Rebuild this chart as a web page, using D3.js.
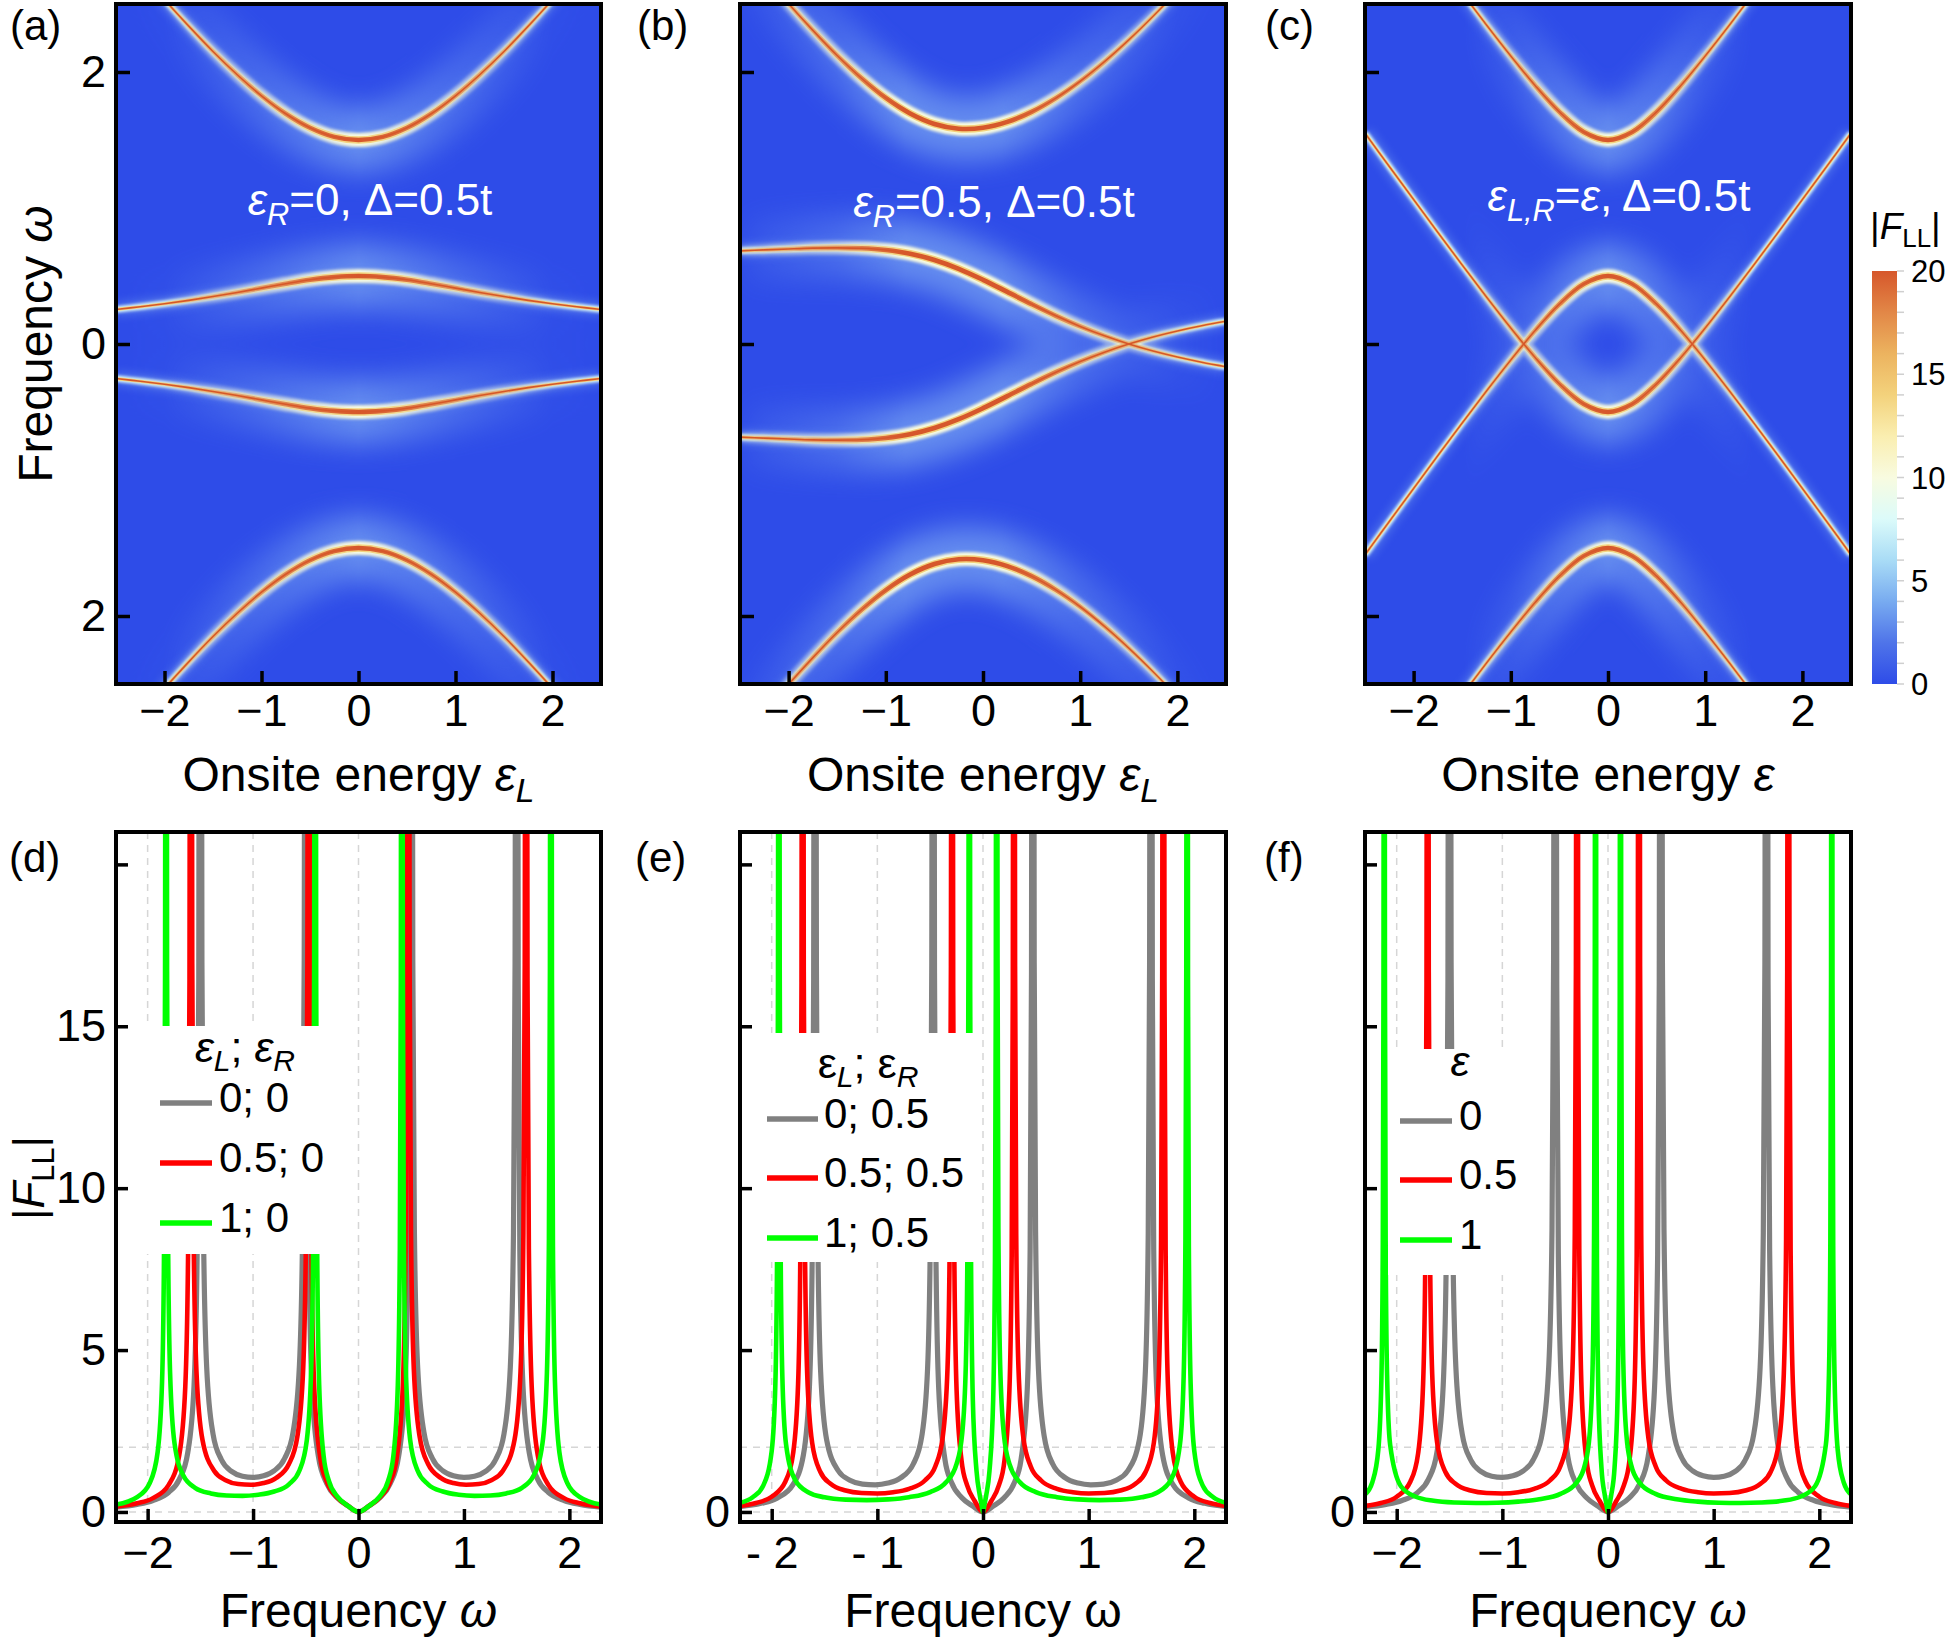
<!DOCTYPE html>
<html>
<head>
<meta charset="utf-8">
<script src="https://cdn.jsdelivr.net/npm/d3@7"></script>
<style>
  body { margin: 0; background: #fff; }
  text { font-family: "Liberation Sans", Arial, Helvetica, sans-serif; }
</style>
</head>
<body>
<div id="main"></div>
<script>
// ---------- data ----------
// top row: band positions (omega) against the onsite energy, drawn at +omega and -omega
const epsGrid = [-2.5, -2.25, -2, -1.75, -1.5, -1.25, -1, -0.75, -0.5, -0.25, 0,
                 0.25, 0.5, 0.75, 1, 1.25, 1.5, 1.75, 2, 2.25, 2.5];

const outerA = [2.947, 2.736, 2.532, 2.337, 2.151, 1.980, 1.825, 1.693, 1.590, 1.523, 1.500,
                1.523, 1.590, 1.693, 1.825, 1.980, 2.151, 2.337, 2.532, 2.736, 2.947];
const innerA = [0.254, 0.274, 0.296, 0.321, 0.349, 0.379, 0.411, 0.443, 0.472, 0.492, 0.500,
                0.492, 0.472, 0.443, 0.411, 0.379, 0.349, 0.321, 0.296, 0.274, 0.254];

const outerB = [2.921, 2.708, 2.502, 2.306, 2.121, 1.954, 1.809, 1.695, 1.618, 1.583, 1.590,
                1.633, 1.707, 1.808, 1.932, 2.076, 2.236, 2.410, 2.596, 2.792, 2.995];
const innerB = [0.685, 0.692, 0.699, 0.705, 0.707, 0.704, 0.691, 0.664, 0.618, 0.553, 0.472,
                0.383, 0.293, 0.207, 0.129, 0.060, 0.000, -0.052, -0.096, -0.134, -0.167];

const outerC = [3.550, 3.305, 3.062, 2.820, 2.581, 2.346, 2.118, 1.901, 1.707, 1.559, 1.500,
                1.559, 1.707, 1.901, 2.118, 2.346, 2.581, 2.820, 3.062, 3.305, 3.550];
const innerC = [-1.550, -1.305, -1.062, -0.820, -0.581, -0.346, -0.118, 0.099, 0.293, 0.441, 0.500,
                0.441, 0.293, 0.099, -0.118, -0.346, -0.581, -0.820, -1.062, -1.305, -1.550];

// bottom row: |F_LL| against frequency, [omega, |F_LL|]
const dGray = [[-2.3,0.150],[-2.1,0.234],[-1.95,0.354],[-1.8,0.608],[-1.7,1.006],[-1.62,1.822],[-1.56,3.891],[-1.53,8.05],[-1.515,16.38],[-1.5075,33.04],
  [-1.4925,33.63],[-1.485,16.96],[-1.47,8.634],[-1.44,4.476],[-1.38,2.414],[-1.3,1.612],[-1.2,1.245],[-1.1,1.102],[-1.0,1.067],[-0.9,1.116],[-0.8,1.274],[-0.7,1.657],[-0.62,2.473],[-0.56,4.547],[-0.53,8.711],[-0.515,17.04],[-0.5075,33.69],
  [-0.4925,32.98],[-0.485,16.29],[-0.47,7.96],[-0.44,3.794],[-0.38,1.709],[-0.3,0.868],[-0.2,0.431],[-0.1,0.186],[0,0],
  [0.1,0.186],[0.2,0.431],[0.3,0.868],[0.38,1.709],[0.44,3.794],[0.47,7.96],[0.485,16.29],[0.4925,32.98],
  [0.5075,33.69],[0.515,17.04],[0.53,8.711],[0.56,4.547],[0.62,2.473],[0.7,1.657],[0.8,1.274],[0.9,1.116],[1.0,1.067],[1.1,1.102],[1.2,1.245],[1.3,1.612],[1.38,2.414],[1.44,4.476],[1.47,8.634],[1.485,16.96],[1.4925,33.63],
  [1.5075,33.04],[1.515,16.38],[1.53,8.05],[1.56,3.891],[1.62,1.822],[1.7,1.006],[1.8,0.608],[1.95,0.354],[2.1,0.234],[2.3,0.150]];

const dRed = [[-2.3,0.164],[-2.1,0.266],[-1.95,0.427],[-1.8,0.837],[-1.7,1.758],[-1.6428,3.872],[-1.6158,8.117],[-1.6028,16.46],[-1.5964,32.63],
  [-1.5832,33.11],[-1.5768,16.92],[-1.5638,8.58],[-1.5368,4.335],[-1.48,2.231],[-1.37,1.273],[-1.26,0.982],[-1.14,0.862],[-1.02,0.839],[-0.9,0.892],[-0.78,1.053],[-0.66,1.481],[-0.58,2.325],[-0.5248,4.409],[-0.4978,8.65],[-0.4848,16.96],[-0.4784,33.0],
  [-0.4652,32.74],[-0.459,16.68],[-0.446,8.101],[-0.419,3.791],[-0.36,1.615],[-0.3,0.928],[-0.2,0.44],[-0.1,0.187],[0,0],
  [0.1,0.187],[0.2,0.44],[0.3,0.928],[0.36,1.615],[0.419,3.791],[0.446,8.101],[0.459,16.68],[0.4652,32.74],
  [0.4784,33.0],[0.4848,16.96],[0.4978,8.65],[0.5248,4.409],[0.58,2.325],[0.66,1.481],[0.78,1.053],[0.9,0.892],[1.02,0.839],[1.14,0.862],[1.26,0.982],[1.37,1.273],[1.48,2.231],[1.5368,4.335],[1.5638,8.58],[1.5768,16.92],[1.5832,33.11],
  [1.5964,32.63],[1.6028,16.46],[1.6158,8.117],[1.6428,3.872],[1.7,1.758],[1.8,0.837],[1.95,0.427],[2.1,0.266],[2.3,0.164]];

const dGreen = [[-2.3,0.229],[-2.1,0.459],[-1.98,0.896],[-1.905,1.848],[-1.8631,4.03],[-1.8441,8.203],[-1.8346,16.58],[-1.8299,33.09],
  [-1.8203,32.8],[-1.8156,16.71],[-1.8061,8.445],[-1.7871,4.299],[-1.745,2.121],[-1.66,1.115],[-1.55,0.747],[-1.4,0.57],[-1.25,0.507],[-1.1,0.498],[-0.95,0.533],[-0.8,0.631],[-0.66,0.855],[-0.56,1.282],[-0.49,2.225],[-0.4489,4.393],[-0.4299,8.564],[-0.4204,16.92],[-0.4157,33.36],
  [-0.4061,32.53],[-0.4014,16.36],[-0.3919,8.075],[-0.3729,3.919],[-0.331,1.733],[-0.28,0.952],[-0.2,0.472],[-0.1,0.19],[0,0],
  [0.1,0.19],[0.2,0.472],[0.28,0.952],[0.331,1.733],[0.3729,3.919],[0.3919,8.075],[0.4014,16.36],[0.4061,32.53],
  [0.4157,33.36],[0.4204,16.92],[0.4299,8.564],[0.4489,4.393],[0.49,2.225],[0.56,1.282],[0.66,0.855],[0.8,0.631],[0.95,0.533],[1.1,0.498],[1.25,0.507],[1.4,0.57],[1.55,0.747],[1.66,1.115],[1.745,2.121],[1.7871,4.299],[1.8061,8.445],[1.8156,16.71],[1.8203,32.8],
  [1.8299,33.09],[1.8346,16.58],[1.8441,8.203],[1.8631,4.03],[1.905,1.848],[1.98,0.896],[2.1,0.459],[2.3,0.229]];

// eps_L=0, eps_R=0.5 sits on the same spectrum as eps_L=0.5, eps_R=0
const eGray = dRed;

const eRed = [[-2.3,0.186],[-2.15,0.277],[-2.0,0.471],[-1.87,0.941],[-1.797,1.815],[-1.7501,3.956],[-1.7285,8.104],[-1.7178,16.37],[-1.7125,32.61],
  [-1.7017,32.86],[-1.6964,16.68],[-1.6857,8.423],[-1.6641,4.277],[-1.6171,2.137],[-1.54,1.242],[-1.44,0.862],[-1.3,0.662],[-1.15,0.584],[-1.0,0.571],[-0.85,0.609],[-0.7,0.714],[-0.55,0.972],[-0.45,1.422],[-0.383,2.272],[-0.3359,4.435],[-0.3143,8.591],[-0.3036,16.85],[-0.2983,33.07],
  [-0.2875,32.4],[-0.2822,16.18],[-0.2715,7.914],[-0.2499,3.754],[-0.2029,1.583],[-0.15,0.82],[-0.08,0.347],[0,0],
  [0.08,0.347],[0.15,0.82],[0.2029,1.583],[0.2499,3.754],[0.2715,7.914],[0.2822,16.18],[0.2875,32.4],
  [0.2983,33.07],[0.3036,16.85],[0.3143,8.591],[0.3359,4.435],[0.383,2.272],[0.45,1.422],[0.55,0.972],[0.7,0.714],[0.85,0.609],[1.0,0.571],[1.15,0.584],[1.3,0.662],[1.44,0.862],[1.54,1.242],[1.6171,2.137],[1.6641,4.277],[1.6857,8.423],[1.6964,16.68],[1.7017,32.86],
  [1.7125,32.61],[1.7178,16.37],[1.7285,8.104],[1.7501,3.956],[1.797,1.815],[1.87,0.941],[2.0,0.471],[2.15,0.277],[2.3,0.186]];

const eGreen = [[-2.3,0.28],[-2.18,0.452],[-2.08,0.814],[-2.0002,1.877],[-1.9652,3.97],[-1.9484,8.185],[-1.9403,16.44],[-1.9363,32.47],
  [-1.9281,33.16],[-1.9241,16.78],[-1.916,8.426],[-1.8992,4.188],[-1.8642,2.089],[-1.78,1.0],[-1.65,0.603],[-1.5,0.453],[-1.3,0.38],[-1.1,0.365],[-0.9,0.388],[-0.7,0.456],[-0.5,0.615],[-0.35,0.917],[-0.25,1.488],[-0.1974,2.404],[-0.1624,4.548],[-0.1456,8.8],[-0.1375,17.11],[-0.1335,33.27],
  [-0.1253,32.35],[-0.1213,16.08],[-0.1132,7.746],[-0.0964,3.475],[-0.0614,1.269],[-0.03,0.507],[-0.015,0.243],[0,0],
  [0.015,0.243],[0.03,0.507],[0.0614,1.269],[0.0964,3.475],[0.1132,7.746],[0.1213,16.08],[0.1253,32.35],
  [0.1335,33.27],[0.1375,17.11],[0.1456,8.8],[0.1624,4.548],[0.1974,2.404],[0.25,1.488],[0.35,0.917],[0.5,0.615],[0.7,0.456],[0.9,0.388],[1.1,0.365],[1.3,0.38],[1.5,0.453],[1.65,0.603],[1.78,1.0],[1.8642,2.089],[1.8992,4.188],[1.916,8.426],[1.9241,16.78],[1.9281,33.16],
  [1.9363,32.47],[1.9403,16.44],[1.9484,8.185],[1.9652,3.97],[2.0002,1.877],[2.08,0.814],[2.18,0.452],[2.3,0.28]];

// eps=0 and eps=0.5 in (f) repeat curves already read in (d) and (e)
const fGray = dGray;
const fRed = eRed;
const fGreen = [[-2.3,0.542],[-2.23,0.924],[-2.174,1.92],[-2.145,4.067],[-2.1315,8.221],[-2.1248,16.43],[-2.1214,33.09],
  [-2.1146,32.68],[-2.1112,16.45],[-2.1045,8.344],[-2.091,4.217],[-2.062,2.077],[-1.96,0.795],[-1.82,0.47],[-1.65,0.345],[-1.45,0.291],[-1.25,0.276],[-1.05,0.285],[-0.85,0.319],[-0.65,0.392],[-0.45,0.557],[-0.3,0.897],[-0.22,1.438],[-0.174,2.389],[-0.145,4.578],[-0.1315,8.755],[-0.1248,16.98],[-0.1214,33.64],
  [-0.1146,32.11],[-0.1112,15.87],[-0.1045,7.755],[-0.091,3.597],[-0.062,1.371],[-0.03,0.513],[-0.015,0.244],[0,0],
  [0.015,0.244],[0.03,0.513],[0.062,1.371],[0.091,3.597],[0.1045,7.755],[0.1112,15.87],[0.1146,32.11],
  [0.1214,33.64],[0.1248,16.98],[0.1315,8.755],[0.145,4.578],[0.174,2.389],[0.22,1.438],[0.3,0.897],[0.45,0.557],[0.65,0.392],[0.85,0.319],[1.05,0.285],[1.25,0.276],[1.45,0.291],[1.65,0.345],[1.82,0.47],[1.96,0.795],[2.062,2.077],[2.091,4.217],[2.1045,8.344],[2.1112,16.45],[2.1146,32.68],
  [2.1214,33.09],[2.1248,16.43],[2.1315,8.221],[2.145,4.067],[2.174,1.92],[2.23,0.924],[2.3,0.542]];

const legendD = ["0; 0", "0.5; 0", "1; 0"];
const legendE = ["0; 0.5", "0.5; 0.5", "1; 0.5"];
const legendF = ["0", "0.5", "1"];

const topXTicks = [-2, -1, 0, 1, 2];
const topXLabels = ["\u22122", "\u22121", "0", "1", "2"];
const topYTicks = [2, 0, -2];
const topYLabels = ["2", "0", "2"];

const botXTicks = [-2, -1, 0, 1, 2];
const botXLabels = ["\u22122", "\u22121", "0", "1", "2"];
const botXLabelsE = ["- 2", "- 1", "0", "1", "2"];
const botYTicks = [0, 5, 10, 15, 20];
const botYLabelsD = ["0", "5", "10", "15", ""];
const botYLabelsEF = ["0", "", "", "", ""];

const cbarTicks = [0, 5, 10, 15, 20];
const cbarMinor = d3.range(0, 21);

// ---------- layout ----------
const W = 1954, H = 1638;
const svg = d3.select("#main").append("svg").attr("width", W).attr("height", H);
const defs = svg.append("defs");

const heatColors = ["#2e4ce8", "#4f74e9", "#78abf0", "#a9dcf6", "#dcfbfa", "#f8fbe0",
                    "#faeeb0", "#f3d27c", "#ecb35f", "#e28747", "#d6572b"];
const bgBlue = "#2e4ce8";

function blur(id, sd) {
  defs.append("filter").attr("id", id).attr("filterUnits", "userSpaceOnUse")
    .attr("x", 0).attr("y", 0).attr("width", W).attr("height", H)
    .append("feGaussianBlur").attr("stdDeviation", sd);
}
blur("b-wide", 14);
blur("b-mid", 4);
blur("b-halo", 1.5);
blur("b-soft", 0.6);

// text with italic / subscript pieces
function rich(parent, parts, o) {
  const t = parent.append("text")
    .attr("x", o.x).attr("y", o.y)
    .attr("font-size", o.size)
    .attr("text-anchor", o.anchor || "start")
    .attr("fill", o.fill || "#000");
  if (o.rotate) t.attr("transform", `rotate(-90 ${o.x} ${o.y})`);
  let down = false;
  parts.forEach(p => {
    const s = t.append("tspan").text(p.t);
    if (p.it) s.attr("font-style", "italic");
    if (p.sub) {
      s.attr("font-size", o.size * 0.7);
      if (!down) { s.attr("dy", o.size * 0.22); down = true; }
    } else if (down) {
      s.attr("dy", -o.size * 0.22); down = false;
    }
  });
  return t;
}

function styleAxis(g, size) {
  g.select(".domain").remove();
  g.selectAll(".tick line").attr("stroke", "#000").attr("stroke-width", 3.5);
  g.selectAll(".tick text").attr("font-size", size)
    .attr("font-family", '"Liberation Sans", Arial, Helvetica, sans-serif').attr("fill", "#000");
}

// ---------- top row: density maps ----------
const topY = d3.scaleLinear().domain([-2.5, 2.5]).range([684, 4]);

const topPanels = [
  { key: "a", x0: 116, x1: 601, outer: outerA, inner: innerA, tag: "(a)", tagX: 10,
    fade: [[-2.5, 0], [-2, 0.05], [-1, 0.5], [0, 1], [1, 0.5], [2, 0.05], [2.5, 0]],
    note: { x: 370, y: 215, parts: [{ t: "\u03b5", it: 1 }, { t: "R", it: 1, sub: 1 }, { t: "=0, \u0394=0.5t" }] },
    xlab: [{ t: "Onsite energy " }, { t: "\u03b5", it: 1 }, { t: "L", it: 1, sub: 1 }], yLabels: true },
  { key: "b", x0: 740, x1: 1226, outer: outerB, inner: innerB, tag: "(b)", tagX: 637,
    fade: [[-2.5, 0.1], [-1.5, 0.5], [-0.8, 1], [0.2, 1], [1, 0.5], [2, 0.1], [2.5, 0]],
    note: { x: 994, y: 217, parts: [{ t: "\u03b5", it: 1 }, { t: "R", it: 1, sub: 1 }, { t: "=0.5, \u0394=0.5t" }] },
    xlab: [{ t: "Onsite energy " }, { t: "\u03b5", it: 1 }, { t: "L", it: 1, sub: 1 }], yLabels: false },
  { key: "c", x0: 1365, x1: 1851, outer: outerC, inner: innerC, tag: "(c)", tagX: 1265,
    fade: [[-2.5, 0], [-1.5, 0], [-1, 0.25], [-0.5, 0.65], [0, 1], [0.5, 0.65], [1, 0.25], [1.5, 0], [2.5, 0]],
    note: { x: 1619, y: 211, parts: [{ t: "\u03b5", it: 1 }, { t: "L,R", it: 1, sub: 1 }, { t: "=" }, { t: "\u03b5", it: 1 }, { t: ", \u0394=0.5t" }] },
    xlab: [{ t: "Onsite energy " }, { t: "\u03b5", it: 1 }], yLabels: false }
];

topPanels.forEach(p => {
  const x = d3.scaleLinear().domain([-2.5, 2.5]).range([p.x0, p.x1]);
  const top = topY.range()[1], bot = topY.range()[0];

  defs.append("clipPath").attr("id", "clip-" + p.key)
    .append("rect").attr("x", p.x0).attr("y", top).attr("width", p.x1 - p.x0).attr("height", bot - top);

  const grad = defs.append("linearGradient").attr("id", "fade-" + p.key)
    .attr("gradientUnits", "userSpaceOnUse")
    .attr("x1", p.x0).attr("x2", p.x1).attr("y1", 0).attr("y2", 0);
  p.fade.forEach(([e, o]) => grad.append("stop")
    .attr("offset", (e + 2.5) / 5).attr("stop-color", "#fff").attr("stop-opacity", o));
  defs.append("mask").attr("id", "mask-" + p.key).attr("maskUnits", "userSpaceOnUse")
    .attr("x", 0).attr("y", 0).attr("width", W).attr("height", H)
    .append("rect").attr("x", p.x0).attr("y", top).attr("width", p.x1 - p.x0).attr("height", bot - top)
    .attr("fill", `url(#fade-${p.key})`);

  // BdG spectrum is particle-hole symmetric: every band shows at +omega and -omega
  const bands = [{ v: p.outer, s: 1 }, { v: p.outer, s: -1 }, { v: p.inner, s: 1 }, { v: p.inner, s: -1 }];
  const path = b => d3.line()
    .x((d, i) => x(epsGrid[i]))
    .y(d => topY(b.s * d))
    .curve(d3.curveCatmullRom.alpha(0.5))(b.v);

  const g = svg.append("g").attr("clip-path", `url(#clip-${p.key})`);
  g.append("rect").attr("x", p.x0).attr("y", top).attr("width", p.x1 - p.x0).attr("height", bot - top)
    .attr("fill", bgBlue);

  function layer(width, color, filter, opacity, masked) {
    const l = g.append("g").attr("opacity", opacity);
    if (filter) l.attr("filter", `url(#${filter})`);
    if (masked) l.attr("mask", `url(#mask-${p.key})`);
    l.selectAll("path").data(bands).join("path")
      .attr("d", path).attr("fill", "none")
      .attr("stroke", color).attr("stroke-width", width);
  }
  layer(64, "#7aa6f2", "b-wide", 0.7, true);
  layer(14, "#6d96ef", "b-mid", 0.45, false);
  layer(6.5, heatColors[4], "b-halo", 1, false);
  layer(14, heatColors[5], "b-halo", 1, true);
  layer(3.2, heatColors[7], "b-soft", 1, false);
  layer(7.5, heatColors[7], "b-soft", 1, true);
  layer(1.6, heatColors[10], null, 1, false);
  layer(4.6, heatColors[10], null, 1, true);

  // axes
  const ax = svg.append("g").attr("transform", `translate(0,${bot})`)
    .call(d3.axisBottom(x).tickValues(topXTicks).tickFormat((d, i) => topXLabels[i])
      .tickSize(-13).tickPadding(10));
  styleAxis(ax, 45);
  const ay = svg.append("g").attr("transform", `translate(${p.x0},0)`)
    .call(d3.axisLeft(topY).tickValues(topYTicks).tickFormat((d, i) => p.yLabels ? topYLabels[i] : "")
      .tickSize(-14).tickPadding(10));
  styleAxis(ay, 45);

  svg.append("rect").attr("x", p.x0).attr("y", top).attr("width", p.x1 - p.x0).attr("height", bot - top)
    .attr("fill", "none").attr("stroke", "#000").attr("stroke-width", 4);

  rich(svg, p.note.parts, { x: p.note.x, y: p.note.y, size: 44, anchor: "middle", fill: "#fff" });
  rich(svg, p.xlab, { x: (p.x0 + p.x1) / 2, y: 791, size: 48, anchor: "middle" });
  svg.append("text").attr("x", p.tagX).attr("y", 40).attr("font-size", 42).text(p.tag);
});

rich(svg, [{ t: "Frequency " }, { t: "\u03c9", it: 1 }], { x: 52, y: 344, size: 48, anchor: "middle", rotate: true });

// colour bar
const cbY = d3.scaleLinear().domain([0, 20]).range([684, 271]);
const cbGrad = defs.append("linearGradient").attr("id", "cbar")
  .attr("x1", 0).attr("x2", 0).attr("y1", 1).attr("y2", 0);
heatColors.forEach((c, i) => cbGrad.append("stop").attr("offset", i / (heatColors.length - 1)).attr("stop-color", c));
svg.append("rect").attr("x", 1872).attr("y", cbY(20)).attr("width", 25).attr("height", cbY(0) - cbY(20))
  .attr("fill", "url(#cbar)");
svg.append("g").selectAll("line").data(cbarMinor).join("line")
  .attr("x1", 1897).attr("x2", 1904).attr("y1", d => cbY(d)).attr("y2", d => cbY(d))
  .attr("stroke", "#cfcfcf").attr("stroke-width", 1.5);
svg.append("g").selectAll("text").data(cbarTicks).join("text")
  .attr("x", 1911).attr("y", d => cbY(d)).attr("dy", "0.36em")
  .attr("font-size", 31).text(d => d);
rich(svg, [{ t: "|" }, { t: "F", it: 1 }, { t: "LL", sub: 1 }, { t: "|" }], { x: 1870, y: 239, size: 37 });

// ---------- bottom row: line plots ----------
const botY = d3.scaleLinear().domain([-0.31, 21]).range([1522, 832]);
const lineColors = ["#808080", "#ff0000", "#00ff00"];
const lineWidths = [5.2, 4.6, 4.6];

const botPanels = [
  { key: "d", x0: 116, x1: 601, series: [dGray, dRed, dGreen], tag: "(d)", tagX: 9,
    xLabels: botXLabels, yLabels: botYLabelsD, omegaItalic: true,
    box: [118, 1026, 330, 1254], labels: legendD,
    title: { x: 245, y: 1062, parts: [{ t: "\u03b5", it: 1 }, { t: "L", it: 1, sub: 1 }, { t: "; " }, { t: "\u03b5", it: 1 }, { t: "R", it: 1, sub: 1 }] },
    rows: [1103, 1163, 1223], lx: [160, 212], tx: 219 },
  { key: "e", x0: 740, x1: 1226, series: [eGray, eRed, eGreen], tag: "(e)", tagX: 635,
    xLabels: botXLabelsE, yLabels: botYLabelsEF, omegaItalic: false,
    box: [742, 1033, 975, 1262], labels: legendE,
    title: { x: 868, y: 1078, parts: [{ t: "\u03b5" }, { t: "L", it: 1, sub: 1 }, { t: "; " }, { t: "\u03b5" }, { t: "R", it: 1, sub: 1 }] },
    rows: [1119, 1178, 1238], lx: [767, 818], tx: 824 },
  { key: "f", x0: 1365, x1: 1851, series: [fGray, fRed, fGreen], tag: "(f)", tagX: 1264,
    xLabels: botXLabels, yLabels: botYLabelsEF, omegaItalic: true,
    box: [1388, 1049, 1535, 1275], labels: legendF,
    title: { x: 1460, y: 1076, parts: [{ t: "\u03b5", it: 1 }] },
    rows: [1121, 1180, 1240], lx: [1400, 1452], tx: 1459 }
];

botPanels.forEach(p => {
  const x = d3.scaleLinear().domain([-2.3, 2.3]).range([p.x0, p.x1]);
  const top = botY.range()[1], bot = botY.range()[0];

  defs.append("clipPath").attr("id", "clip-" + p.key)
    .append("rect").attr("x", p.x0).attr("y", top).attr("width", p.x1 - p.x0).attr("height", bot - top);

  const g = svg.append("g").attr("clip-path", `url(#clip-${p.key})`);

  // faint dashed guides
  const guide = g.append("g").attr("stroke", "#d6d6d6").attr("stroke-width", 1.5).attr("stroke-dasharray", "7 6");
  [-2, -1, 0].forEach(w => guide.append("line")
    .attr("x1", x(w)).attr("x2", x(w)).attr("y1", top).attr("y2", bot));
  [0, 2].forEach(v => guide.append("line")
    .attr("x1", p.x0).attr("x2", p.x1).attr("y1", botY(v)).attr("y2", botY(v)));

  const line = d3.line().x(d => x(d[0])).y(d => botY(d[1])).curve(d3.curveMonotoneX);
  g.selectAll("path.curve").data(p.series).join("path")
    .attr("class", "curve")
    .attr("d", line).attr("fill", "none")
    .attr("stroke", (d, i) => lineColors[i]).attr("stroke-width", (d, i) => lineWidths[i])
    .attr("stroke-linejoin", "round");

  // legend
  const [bx0, by0, bx1, by1] = p.box;
  svg.append("rect").attr("x", bx0).attr("y", by0).attr("width", bx1 - bx0).attr("height", by1 - by0).attr("fill", "#fff");
  rich(svg, p.title.parts, { x: p.title.x, y: p.title.y, size: 43, anchor: "middle" });
  p.labels.forEach((lab, i) => {
    svg.append("line").attr("x1", p.lx[0]).attr("x2", p.lx[1]).attr("y1", p.rows[i]).attr("y2", p.rows[i])
      .attr("stroke", lineColors[i]).attr("stroke-width", 5.5);
    svg.append("text").attr("x", p.tx).attr("y", p.rows[i] + 9).attr("font-size", 42).text(lab);
  });

  const ax = svg.append("g").attr("transform", `translate(0,${bot})`)
    .call(d3.axisBottom(x).tickValues(botXTicks).tickFormat((d, i) => p.xLabels[i])
      .tickSize(-13).tickPadding(14));
  styleAxis(ax, 45);
  const ay = svg.append("g").attr("transform", `translate(${p.x0},0)`)
    .call(d3.axisLeft(botY).tickValues(botYTicks).tickFormat((d, i) => p.yLabels[i])
      .tickSize(-12).tickPadding(10));
  styleAxis(ay, 45);

  svg.append("rect").attr("x", p.x0).attr("y", top).attr("width", p.x1 - p.x0).attr("height", bot - top)
    .attr("fill", "none").attr("stroke", "#000").attr("stroke-width", 4);

  rich(svg, [{ t: "Frequency " }, { t: "\u03c9", it: p.omegaItalic ? 1 : 0 }],
    { x: (p.x0 + p.x1) / 2, y: 1627, size: 48, anchor: "middle" });
  svg.append("text").attr("x", p.tagX).attr("y", 872).attr("font-size", 42).text(p.tag);
});

rich(svg, [{ t: "|" }, { t: "F", it: 1 }, { t: "LL", sub: 1 }, { t: "|" }], { x: 44, y: 1178, size: 44, anchor: "middle", rotate: true });
</script>
</body>
</html>
